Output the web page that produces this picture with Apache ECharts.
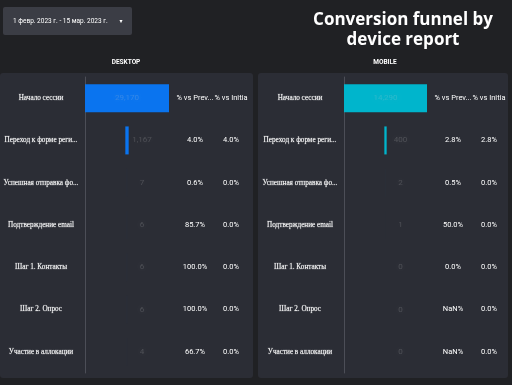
<!DOCTYPE html>
<html>
<head>
<meta charset="utf-8">
<script src="https://cdn.jsdelivr.net/npm/echarts@6/dist/echarts.min.js"></script>
<style>
html,body{margin:0;padding:0;background:#202124;}
#c{width:512px;height:385px;}
</style>
</head>
<body>
<div id="c"></div>
<script>
const categories = ['Начало сессии','Переход к форме реги...','Успешная отправка фо...','Подтверждение email','Шаг 1. Контакты','Шаг 2. Опрос','Участие в аллокации'];
const desktopValues = [29170, 1167, 7, 6, 6, 6, 4];
const mobileValues = [14290, 400, 2, 1, 0, 0, 0];
const desktopVsPrev = ['% vs Prev...','4.0%','0.6%','85.7%','100.0%','100.0%','66.7%'];
const desktopVsInitial = ['% vs Initia','4.0%','0.0%','0.0%','0.0%','0.0%','0.0%'];
const mobileVsPrev = ['% vs Prev...','2.8%','0.5%','50.0%','0.0%','NaN%','NaN%'];
const mobileVsInitial = ['% vs Initia','2.8%','0.0%','0.0%','0.0%','0.0%','0.0%'];
const panelTitles = ['DESKTOP','MOBILE'];
const dateRange = '1 февр. 2023 г. - 15 мар. 2023 г.';
const reportTitle = 'Conversion funnel by\ndevice report';

const chart = echarts.init(document.getElementById('c'), null, {renderer:'canvas'});

const grids = [
  {left:85, top:77, width:84, height:296, containLabel:false, outerBoundsMode:'none'},
  {left:344, top:77, width:83, height:296, containLabel:false, outerBoundsMode:'none'}
];
const sets = [
  {values: desktopValues, prev: desktopVsPrev, init: desktopVsInitial, color:'#0a74ef'},
  {values: mobileValues, prev: mobileVsPrev, init: mobileVsInitial, color:'#00b5cc'}
];

const xAxes = [], yAxes = [], series = [];
sets.forEach((s, g) => {
  const maxV = Math.max.apply(null, s.values);
  xAxes.push({type:'value', gridIndex:g, min:0, max:maxV, show:false});
  const base = yAxes.length;
  yAxes.push({
    type:'category', gridIndex:g, data:categories, inverse:true, position:'left', offset:7,
    axisLine:{show:true, lineStyle:{color:'#4c4e57', width:1}},
    axisTick:{show:false},
    axisLabel:{
      color:'#ffffff', fontFamily:'Liberation Serif', fontSize:7.2, align:'center', margin:37,
      textBorderColor:'rgba(255,255,255,0.3)', textBorderWidth:0.5
    }
  });
  yAxes.push({
    type:'category', gridIndex:g, data:categories, inverse:true, position:'right',
    axisLine:{show:false}, axisTick:{show:false},
    axisLabel:{color:'#ffffff', fontFamily:'Roboto', fontSize:7.5, align:'center', margin:26,
      formatter:(v,i)=>s.prev[i]}
  });
  yAxes.push({
    type:'category', gridIndex:g, data:categories, inverse:true, position:'right',
    axisLine:{show:false}, axisTick:{show:false},
    axisLabel:{color:'#ffffff', fontFamily:'Roboto', fontSize:7.5, align:'center', margin:62,
      formatter:(v,i)=>s.init[i]}
  });
  series.push({
    type:'bar', xAxisIndex:g, yAxisIndex:base, stack:'f'+g, silent:true,
    itemStyle:{color:'rgba(0,0,0,0)'}, barWidth:28,
    data:s.values.map(v => (maxV - v) / 2)
  });
  series.push({
    type:'bar', xAxisIndex:g, yAxisIndex:base, stack:'f'+g, barWidth:28,
    itemStyle:{color:s.color},
    label:{show:true, position:'inside', fontFamily:'Roboto', fontSize:8,
      color:'rgba(210,210,210,0.2)', textShadowColor:'rgba(215,215,215,1)', textShadowBlur:7,
      formatter:p => p.value.toLocaleString('en-US')},
    data:s.values.map((v,i) => i === 0 ? {value:v} : {value:v, label:{offset:[15,0]}})
  });
});

chart.setOption({
  backgroundColor:'#202124',
  animation:false,
  title:{
    text:reportTitle, left:398, top:5, textAlign:'center',
    textStyle:{color:'#ffffff', fontFamily:'Open Sans', fontWeight:'bold', fontSize:17, lineHeight:20}
  },
  graphic:[
    {type:'rect', z:-10, shape:{x:0, y:73, width:253, height:305, r:3}, style:{fill:'#2b2d35'}},
    {type:'rect', z:-10, shape:{x:258, y:73, width:250, height:305, r:3}, style:{fill:'#2b2d35'}},
    {type:'rect', z:-10, shape:{x:3, y:7, width:129, height:28, r:2}, style:{fill:'#3b3d45'}},
    {type:'text', z:5, style:{x:13, y:21, text:dateRange, fill:'#ffffff', font:'6.5px Roboto', verticalAlign:'middle'}},
    {type:'text', z:5, style:{x:121, y:21, text:'▾', fill:'#ffffff', font:'6px DejaVu Sans', verticalAlign:'middle', align:'center'}},
    {type:'text', z:5, style:{x:126, y:62, text:panelTitles[0], fill:'#ffffff', font:'bold 6.5px Roboto', verticalAlign:'middle', align:'center'}},
    {type:'text', z:5, style:{x:385, y:62, text:panelTitles[1], fill:'#ffffff', font:'bold 6.5px Roboto', verticalAlign:'middle', align:'center'}}
  ],
  grid:grids,
  xAxis:xAxes,
  yAxis:yAxes,
  series:series
});
</script>
</body>
</html>
